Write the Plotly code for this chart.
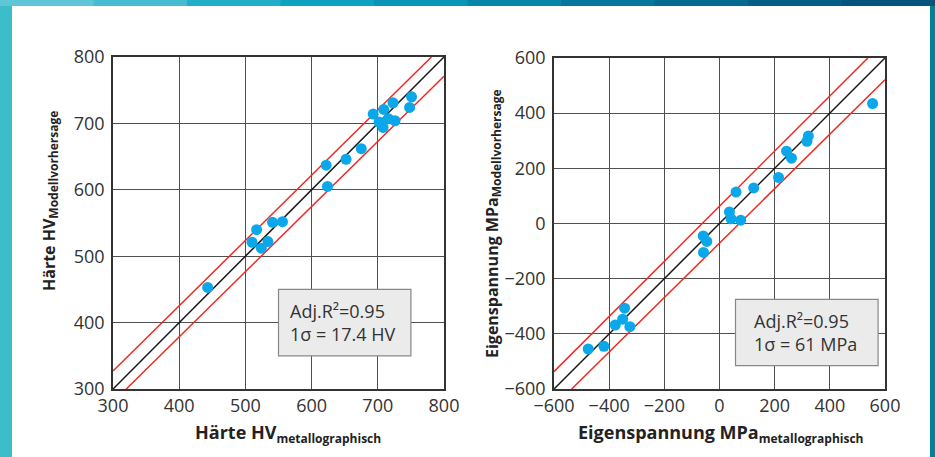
import plotly.graph_objects as go

# ---------------- data ----------------
hv_metallo = [443, 510, 517, 524, 534, 541, 556, 622, 624, 652, 675, 693, 702, 708, 709, 716, 723, 726, 748, 751]
hv_model   = [453, 521, 540, 512, 522, 551, 552, 637, 605, 646, 662, 714, 702, 694, 721, 707, 731, 704, 724, 740]

es_metallo = [-476, -419, -378, -351, -344, -325, -59, -46, -58, 36, 42, 77, 60, 124, 214, 243, 261, 317, 322, 555]
es_model   = [-455, -445, -368, -347, -307, -374, -45, -65, -105, 42, 17, 12, 114, 129, 167, 262, 237, 298, 317, 435]

hv_ticks = [300, 400, 500, 600, 700, 800]
es_ticks = [-600, -400, -200, 0, 200, 400, 600]

# reference lines
hv_ideal_x, hv_ideal_y = [300, 800], [300, 800]
hv_upper_x, hv_upper_y = [300, 781], [327, 800]
hv_lower_x, hv_lower_y = [320, 800], [300, 771]

es_ideal_x, es_ideal_y = [-600, 600], [-600, 600]
es_upper_x, es_upper_y = [-600, 538], [-537, 600]
es_lower_x, es_lower_y = [-536, 600], [-600, 521]

hv_box = dict(x0=550, x1=750, y0=350, y1=450)
es_box = dict(x0=58, x1=575, y0=-515, y1=-275)

hv_text = "Adj.R²=0.95<br>1σ = 17.4 HV"
es_text = "Adj.R²=0.95<br>1σ = 61 MPa"

# ---------------- figure ----------------
W, H = 935, 457
FONT = "Open Sans"
BLUE = "#0aa8ea"
RED = "#ec2a22"

def px(x):
    return x / W

def py(y):
    return 1 - y / H

fig = go.Figure()

def add_panel(xa, ya, ix, iy, ux, uy, lx, ly, mx, my):
    fig.add_trace(go.Scatter(x=ux, y=uy, mode="lines", line=dict(color=RED, width=1.5),
                             xaxis=xa, yaxis=ya, hoverinfo="skip"))
    fig.add_trace(go.Scatter(x=lx, y=ly, mode="lines", line=dict(color=RED, width=1.5),
                             xaxis=xa, yaxis=ya, hoverinfo="skip"))
    fig.add_trace(go.Scatter(x=ix, y=iy, mode="lines", line=dict(color="#1a1a1a", width=1.5),
                             xaxis=xa, yaxis=ya, hoverinfo="skip"))
    fig.add_trace(go.Scatter(x=mx, y=my, mode="markers",
                             marker=dict(color=BLUE, size=11, line=dict(width=0)),
                             xaxis=xa, yaxis=ya))

add_panel("x", "y", hv_ideal_x, hv_ideal_y, hv_upper_x, hv_upper_y, hv_lower_x, hv_lower_y,
          hv_metallo, hv_model)
add_panel("x2", "y2", es_ideal_x, es_ideal_y, es_upper_x, es_upper_y, es_lower_x, es_lower_y,
          es_metallo, es_model)

axis_common = dict(showgrid=True, gridcolor="#505050", gridwidth=1.3, zeroline=False,
                   showline=True, linecolor="#333333", linewidth=1.5, mirror=True,
                   ticks="", tickfont=dict(family=FONT, size=18, color="#333333"),
                   automargin=False, fixedrange=True)

fig.update_layout(
    width=W, height=H,
    margin=dict(l=0, r=0, t=0, b=0),
    paper_bgcolor="#2aa6bf",
    plot_bgcolor="#e6e7e8",
    showlegend=False,
    xaxis=dict(domain=[px(113), px(444)], range=[300, 800], tickvals=hv_ticks, anchor="y", **axis_common),
    yaxis=dict(domain=[py(389), py(57)], range=[300, 800], tickvals=hv_ticks, anchor="x",
               ticklabelstandoff=3, **axis_common),
    xaxis2=dict(domain=[px(554), px(885)], range=[-600, 600], tickvals=es_ticks, anchor="y2", **axis_common),
    yaxis2=dict(domain=[py(389), py(58)], range=[-600, 600], tickvals=es_ticks, anchor="x2",
                ticklabelstandoff=3, **axis_common),
)

shapes = []
# background: white panel and coloured border
top_cols = ["#5ec6d6", "#45bccf", "#22aec8", "#0ea2c0", "#0a94b5", "#0786a8", "#06779c", "#056a90",
            "#045e86", "#04557d"]
n = len(top_cols)
for i, c in enumerate(top_cols):
    shapes.append(dict(type="rect", xref="paper", yref="paper", x0=i / n, x1=(i + 1) / n + 0.002,
                       y0=py(6), y1=1, fillcolor=c, line=dict(width=0), layer="below"))
shapes.append(dict(type="rect", xref="paper", yref="paper", x0=0, x1=px(12), y0=0, y1=py(6),
                   fillcolor="#3dbcca", line=dict(width=0), layer="below"))
shapes.append(dict(type="rect", xref="paper", yref="paper", x0=px(930), x1=1, y0=0, y1=py(6),
                   fillcolor="#00809a", line=dict(width=0), layer="below"))
shapes.append(dict(type="rect", xref="paper", yref="paper", x0=px(12), x1=px(930), y0=0, y1=py(6),
                   fillcolor="white", line=dict(width=0), layer="below"))
# statistics boxes
shapes.append(dict(type="rect", xref="x", yref="y", **hv_box,
                   fillcolor="#ebebeb", line=dict(color="#888888", width=1.2), layer="above"))
shapes.append(dict(type="rect", xref="x2", yref="y2", **es_box,
                   fillcolor="#ebebeb", line=dict(color="#888888", width=1.2), layer="above"))
fig.update_layout(shapes=shapes)

ann = []
box_font = dict(family=FONT, size=18, color="#333333")
ann.append(dict(x=(hv_box["x0"] + hv_box["x1"]) / 2 - 3, y=(hv_box["y0"] + hv_box["y1"]) / 2,
                xref="x", yref="y", text=hv_text, showarrow=False, align="left",
                xanchor="center", yanchor="middle", font=box_font))
ann.append(dict(x=(es_box["x0"] + es_box["x1"]) / 2 - 5, y=(es_box["y0"] + es_box["y1"]) / 2,
                xref="x2", yref="y2", text=es_text, showarrow=False, align="left",
                xanchor="center", yanchor="middle", font=box_font))

xt_font = dict(family=FONT, size=18, color="#222222")
yt_font = dict(family=FONT, size=16, color="#222222")
xsub = "<sub><span style='font-size:12px'>metallographisch</span></sub>"
ysub = "<sub><span style='font-size:12px'>Modellvorhersage</span></sub>"
ann.append(dict(x=px(288), y=py(433), xref="paper", yref="paper", showarrow=False,
                xanchor="center", yanchor="middle",
                text="<b>Härte HV" + xsub + "</b>", font=xt_font))
ann.append(dict(x=px(720), y=py(433), xref="paper", yref="paper", showarrow=False,
                xanchor="center", yanchor="middle",
                text="<b>Eigenspannung MPa" + xsub + "</b>", font=xt_font))
ann.append(dict(x=px(50), y=py(201), xref="paper", yref="paper", showarrow=False, textangle=-90,
                xanchor="center", yanchor="middle",
                text="<b>Härte HV" + ysub + "</b>", font=yt_font))
ann.append(dict(x=px(493), y=py(223), xref="paper", yref="paper", showarrow=False, textangle=-90,
                xanchor="center", yanchor="middle",
                text="<b>Eigenspannung MPa" + ysub + "</b>", font=yt_font))
fig.update_layout(annotations=ann)

fig.write_html("out.html", config={"displayModeBar": False},
               post_script="document.body.style.margin='0';document.body.style.overflow='hidden';")
